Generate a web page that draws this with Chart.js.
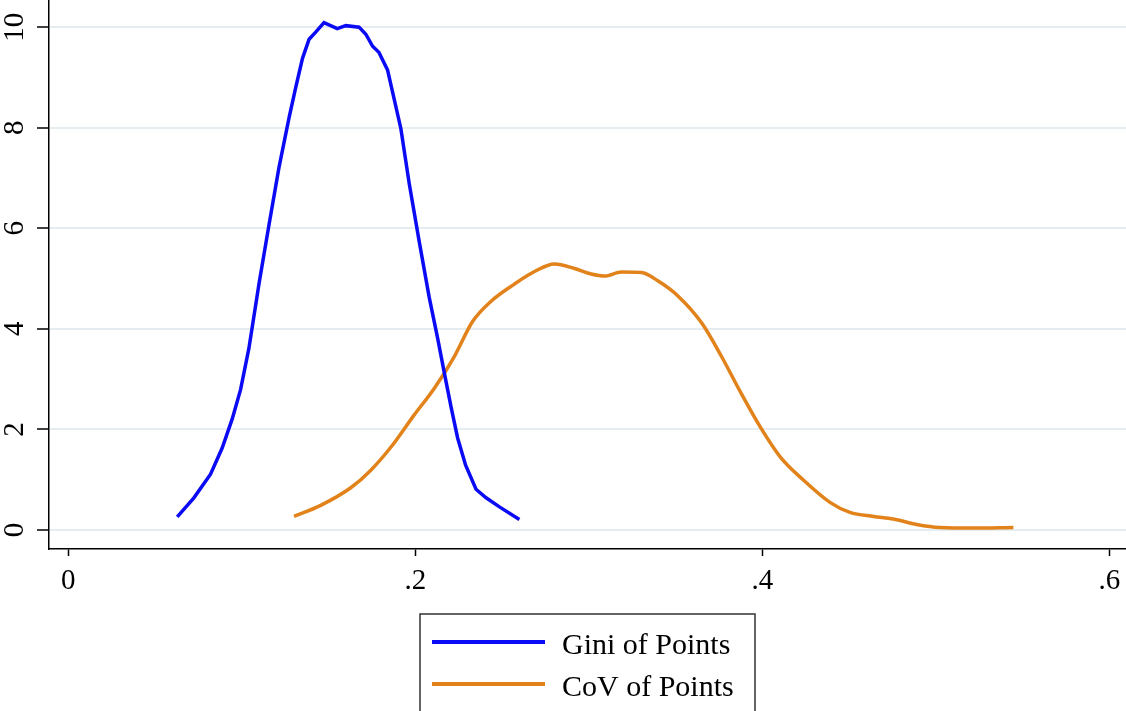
<!DOCTYPE html>
<html>
<head>
<meta charset="utf-8">
<script src="https://cdn.jsdelivr.net/npm/chart.js@4/dist/chart.umd.min.js"></script>
<style>
	html, body { margin: 0; padding: 0; background: #fff; }
	#wrap { width: 1126px; height: 711px; }
</style>
</head>
<body>
<div id="wrap"><canvas id="cntx_density"></canvas></div>
<script>
// kernel density estimates
const giniX = [0.0628, 0.0724, 0.082, 0.0887, 0.0945, 0.0993, 0.1041, 0.110, 0.1157, 0.1214, 0.1272, 0.1311, 0.135, 0.1388, 0.1426, 0.1474, 0.155, 0.160, 0.1676, 0.1715, 0.1754, 0.179, 0.184, 0.1917, 0.1965, 0.2023, 0.208, 0.2129, 0.2167, 0.2206, 0.2244, 0.229, 0.235, 0.2408, 0.2485, 0.26];
const giniY = [0.26, 0.64, 1.11, 1.63, 2.21, 2.79, 3.61, 4.91, 6.07, 7.2, 8.19, 8.80, 9.38, 9.76, 9.90, 10.09, 9.97, 10.03, 10.0, 9.86, 9.62, 9.50, 9.15, 7.98, 6.89, 5.73, 4.63, 3.81, 3.13, 2.45, 1.83, 1.29, 0.81, 0.64, 0.46, 0.21];
const covX = [0.1301, 0.1455, 0.1628, 0.1744, 0.186, 0.1994, 0.211, 0.2225, 0.2331, 0.2437, 0.2571, 0.2687, 0.2802, 0.2918, 0.3014, 0.3091, 0.3188, 0.3303, 0.34, 0.3515, 0.365, 0.3765, 0.3873, 0.3988, 0.4104, 0.4238, 0.439, 0.4505, 0.4641, 0.4755, 0.489, 0.5024, 0.5216, 0.5447];
const covY = [0.27, 0.49, 0.84, 1.19, 1.65, 2.29, 2.82, 3.45, 4.15, 4.55, 4.89, 5.14, 5.29, 5.2, 5.09, 5.05, 5.13, 5.12, 4.95, 4.65, 4.12, 3.45, 2.75, 2.05, 1.45, 0.99, 0.55, 0.35, 0.27, 0.22, 0.11, 0.05, 0.04, 0.05];

const seriesLabels = ["Gini of Points", "CoV of Points"];
const xTicks = [0, 0.2, 0.4, 0.6];
const yTicks = [0, 2, 4, 6, 8, 10];

const serif = "'Liberation Serif', 'Times New Roman', serif";

toPoints = (xs, ys) => xs.map((x, i) => ({ x: x, y: ys[i] }));
fmtTick = (v) => (v === 0 ? "0" : String(v).replace(/^0/, ""));

// y labels are turned a quarter, Stata style
const yLabelPlugin = {
	id: "yLabels",
	afterDraw: (chart) => {
		const ctx = chart.ctx;
		const sc = chart.scales.y;
		ctx.save();
		ctx.font = "29px " + serif;
		ctx.fillStyle = "#000";
		ctx.textAlign = "center";
		ctx.textBaseline = "alphabetic";
		yTicks.forEach((v) => {
			ctx.save();
			ctx.translate(sc.left + 23, sc.getPixelForValue(v));
			ctx.rotate(-Math.PI / 2);
			ctx.fillText(String(v), 0, 0);
			ctx.restore();
		});
		ctx.restore();
	},
};

// boxed legend under the plot, one row per series
const boxLegendPlugin = {
	id: "boxLegend",
	afterDraw: (chart) => {
		const ctx = chart.ctx;
		const area = chart.chartArea;
		const w = 335;
		const left = Math.round((area.left + area.right) / 2 - w / 2);
		const top = area.bottom + 65;
		ctx.save();
		ctx.strokeStyle = "#333";
		ctx.lineWidth = 1.5;
		ctx.strokeRect(left, top, w, 120);
		ctx.font = "30px " + serif;
		ctx.fillStyle = "#000";
		ctx.textBaseline = "alphabetic";
		chart.data.datasets.forEach((ds, i) => {
			const yy = top + 28 + i * 42;
			ctx.strokeStyle = ds.borderColor;
			ctx.lineWidth = 4;
			ctx.beginPath();
			ctx.moveTo(left + 12, yy);
			ctx.lineTo(left + 125, yy);
			ctx.stroke();
			ctx.fillText(ds.label, left + 142, yy + 12);
		});
		ctx.restore();
	},
};

drawChart = (canvas) => {
	const myChart = new Chart(canvas, {
		type: "line",
		data: {
			datasets: [
				{
					label: seriesLabels[0],
					data: toPoints(giniX, giniY),
					borderColor: "#0a0af5",
					borderWidth: 3.5,
					pointRadius: 0,
					tension: 0,
				},
				{
					label: seriesLabels[1],
					data: toPoints(covX, covY),
					borderColor: "#e2821a",
					borderWidth: 3.5,
					pointRadius: 0,
					cubicInterpolationMode: "monotone",
				},
			],
		},
		options: {
			responsive: true,
			maintainAspectRatio: false,
			animation: false,
			layout: { padding: 0 },
			plugins: {
				legend: { display: false },
				tooltip: { enabled: false },
			},
			scales: {
				x: {
					type: "linear",
					min: -0.0111,
					max: 0.6096,
					afterBuildTicks: (sc) => {
						sc.ticks = xTicks.map((v) => ({ value: v }));
					},
					afterFit: (sc) => {
						sc.height = 162;
						sc.paddingRight = 0;
						sc.paddingLeft = 0;
					},
					border: { display: true, color: "#000", width: 1.5 },
					grid: {
						color: "rgba(0,0,0,0)",
						tickColor: "#000",
						tickLength: 7,
						tickWidth: 1.5,
					},
					ticks: {
						font: { family: serif, size: 29 },
						color: "#000",
						padding: 8,
						maxRotation: 0,
						callback: (v) => fmtTick(v),
					},
				},
				y: {
					type: "linear",
					min: -0.378,
					max: 10.54,
					afterBuildTicks: (sc) => {
						sc.ticks = yTicks.map((v) => ({ value: v }));
					},
					afterFit: (sc) => {
						sc.width = 49;
						sc.paddingTop = 0;
						sc.paddingBottom = 0;
					},
					border: { display: true, color: "#000", width: 1.5 },
					grid: {
						color: "#e6edf1",
						lineWidth: 2,
						tickColor: "#000",
						tickLength: 12,
						tickWidth: 1.5,
					},
					ticks: {
						color: "rgba(0,0,0,0)",
						font: { family: serif, size: 1 },
					},
				},
			},
		},
		plugins: [yLabelPlugin, boxLegendPlugin],
	});
};
drawChart(document.querySelector("#cntx_density"));
</script>
</body>
</html>
